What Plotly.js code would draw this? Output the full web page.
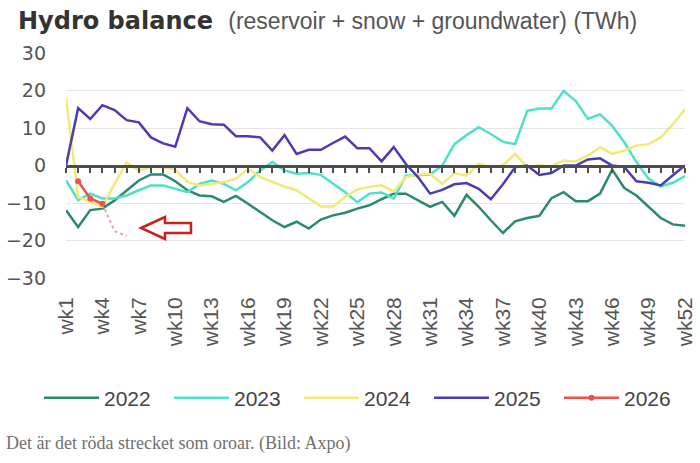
<!DOCTYPE html>
<html><head><meta charset="utf-8">
<script src="https://cdn.plot.ly/plotly-3.0.1.min.js"></script>
<style>html,body{margin:0;padding:0;background:#fff}#chart{width:700px;height:463px}</style>
</head><body><div id="chart"></div>
<script>
const weeks = ["wk1","wk2","wk3","wk4","wk5","wk6","wk7","wk8","wk9","wk10","wk11","wk12","wk13","wk14","wk15","wk16","wk17","wk18","wk19","wk20","wk21","wk22","wk23","wk24","wk25","wk26","wk27","wk28","wk29","wk30","wk31","wk32","wk33","wk34","wk35","wk36","wk37","wk38","wk39","wk40","wk41","wk42","wk43","wk44","wk45","wk46","wk47","wk48","wk49","wk50","wk51","wk52"];
const tickWeeks = ["wk1","wk4","wk7","wk10","wk13","wk16","wk19","wk22","wk25","wk28","wk31","wk34","wk37","wk40","wk43","wk46","wk49","wk52"];

const y2022 = [-11.9,-16.4,-11.9,-11.5,-9.3,-6.6,-4.0,-2.4,-2.4,-4.2,-6.6,-8.0,-8.2,-9.7,-8.1,-10.2,-12.4,-14.6,-16.4,-15.0,-16.8,-14.4,-13.3,-12.6,-11.5,-10.6,-9.0,-7.5,-7.5,-9.3,-11.0,-9.7,-13.4,-7.8,-11.0,-14.6,-18.0,-14.9,-14.0,-13.4,-8.7,-7.1,-9.5,-9.5,-7.5,-1.1,-6.0,-8.0,-11.0,-14.0,-15.7,-16.1];
const y2023 = [-4.0,-9.2,-7.5,-8.8,-8.8,-8.0,-6.6,-5.3,-5.3,-6.2,-7.1,-4.9,-4.0,-4.9,-6.6,-4.4,-1.3,0.9,-1.3,-2.2,-2.0,-2.5,-4.9,-7.1,-9.8,-7.5,-7.2,-8.8,-2.7,-2.5,-2.4,0.0,5.7,8.1,10.2,8.4,6.3,5.7,14.6,15.2,15.2,19.9,17.2,12.4,13.7,10.6,6.2,0.9,-3.5,-5.6,-4.6,-2.8];
const y2024 = [18.1,-8.4,-9.7,-11.0,-4.9,0.8,-1.3,-0.4,-0.4,-1.1,-4.4,-5.3,-4.9,-4.4,-3.5,-0.9,-3.1,-4.4,-5.6,-6.6,-8.8,-10.9,-10.9,-8.4,-6.4,-5.7,-5.3,-6.9,-3.1,-2.4,-2.2,-4.9,-2.0,-2.7,0.4,-0.4,0.0,3.1,-0.4,0.0,-0.2,1.3,1.1,2.7,4.9,3.1,4.0,5.3,5.7,7.5,11.0,15.0];
const y2025 = [0.0,15.3,12.4,16.1,14.8,12.1,11.5,7.5,5.9,5.0,15.3,11.8,11.0,10.9,7.8,7.8,7.5,4.0,8.1,3.1,4.2,4.2,6.0,7.7,4.6,4.6,1.1,4.9,0.4,-3.1,-7.5,-6.5,-5.0,-4.7,-6.2,-9.0,-5.0,-0.5,0.0,-2.5,-2.0,0.0,0.0,1.6,1.9,0.0,-0.4,-4.2,-4.6,-5.3,-2.6,0.0];
const weeks2026 = ["wk2","wk3","wk4"];
const y2026 = [-4.2,-8.8,-10.2];
const weeks2026f = ["wk4","wk5","wk6"];
const y2026f = [-10.2,-17.5,-18.8];

const L=66, R=685, T=53, B=278;
const px = X => (X-L)/(R-L);
const py = Y => (B-Y)/(B-T);

const traces = [
  {x: weeks, y: y2022, name: "2022", mode: "lines", line: {color: "#2b8a6e", width: 2.5}},
  {x: weeks, y: y2023, name: "2023", mode: "lines", line: {color: "#4fe0c8", width: 2.5}},
  {x: weeks, y: y2024, name: "2024", mode: "lines", line: {color: "#f2ea78", width: 2.5}},
  {x: weeks, y: y2025, name: "2025", mode: "lines", line: {color: "#4a3db3", width: 2.5}},
  {x: weeks2026f, y: y2026f, name: "2026 prognos", mode: "lines", showlegend: false, line: {color: "#e3a2aa", width: 2, dash: "3px,3px"}},
  {x: weeks2026, y: y2026, name: "2026", mode: "lines+markers", line: {color: "#e8534f", width: 2.5}, marker: {color: "#e8534f", size: 6}},
  {x: weeks, y: y2025, xaxis: "x2", mode: "lines", opacity: 0, line: {width: 0}, showlegend: false, hoverinfo: "skip"}
];

const arrow = [[141,228],[165,217],[165,223],[191,223],[191,233],[165,233],[165,239]];
const arrowPath = "M " + arrow.map(p => px(p[0]).toFixed(4) + "," + py(p[1]).toFixed(4)).join(" L ") + " Z";

const layout = {
  width: 700, height: 463,
  margin: {l: L, r: 700-R, t: T, b: 463-B},
  paper_bgcolor: "#ffffff", plot_bgcolor: "#ffffff",
  font: {family: "DejaVu Sans", color: "#555"},
  title: {
    text: "<b>Hydro balance</b>  <span style='font-family:Liberation Sans;font-size:23px;color:#555'>(reservoir + snow + groundwater) (TWh)</span>",
    font: {family: "DejaVu Sans", size: 24, color: "#333"},
    xref: "container", x: 18/700, xanchor: "left",
    yref: "container", y: 1 - 21/463, yanchor: "middle"
  },
  xaxis: {
    type: "category", range: [0, 51],
    tickmode: "array", tickvals: tickWeeks, ticktext: tickWeeks,
    tickangle: -90, ticks: "", showgrid: false, showline: false, zeroline: false,
    ticklabelstandoff: 14,
    tickfont: {family: "Liberation Sans", size: 21, color: "#555"}
  },
  xaxis2: {
    type: "category", overlaying: "x", anchor: "free", position: 0.5, side: "bottom",
    range: [0, 51], tickmode: "linear", tick0: 0, dtick: 1,
    showline: true, linecolor: "#4d4d4d", linewidth: 3,
    ticks: "outside", ticklen: 5, tickwidth: 2, tickcolor: "#4d4d4d",
    showticklabels: false, showgrid: false, zeroline: false
  },
  yaxis: {
    range: [-30, 30], tick0: 0, dtick: 10,
    showgrid: true, gridcolor: "#e6e6e6", gridwidth: 1,
    zeroline: false, showline: false, ticks: "",
    ticklabelstandoff: 19,
    tickfont: {family: "DejaVu Sans", size: 19, color: "#555"}
  },
  showlegend: true,
  legend: {
    orientation: "h", x: px(39), xanchor: "left", y: py(398), yanchor: "middle",
    font: {family: "Liberation Sans", size: 21, color: "#444"},
    itemwidth: 55, entrywidth: 60,
    bgcolor: "rgba(0,0,0,0)", traceorder: "normal"
  },
  shapes: [{type: "path", xref: "paper", yref: "paper", path: arrowPath,
            line: {color: "#cc1f1f", width: 2.5}, fillcolor: "rgba(255,255,255,0)"}],
  annotations: [{
    xref: "paper", yref: "paper", x: px(4), y: py(444), xanchor: "left", yanchor: "middle",
    showarrow: false, text: "Det är det röda strecket som oroar. (Bild: Axpo)",
    font: {family: "Liberation Serif", size: 18, color: "#707070"}
  }]
};

Plotly.newPlot("chart", traces, layout, {displayModeBar: false, staticPlot: true});
</script>
</body></html>
